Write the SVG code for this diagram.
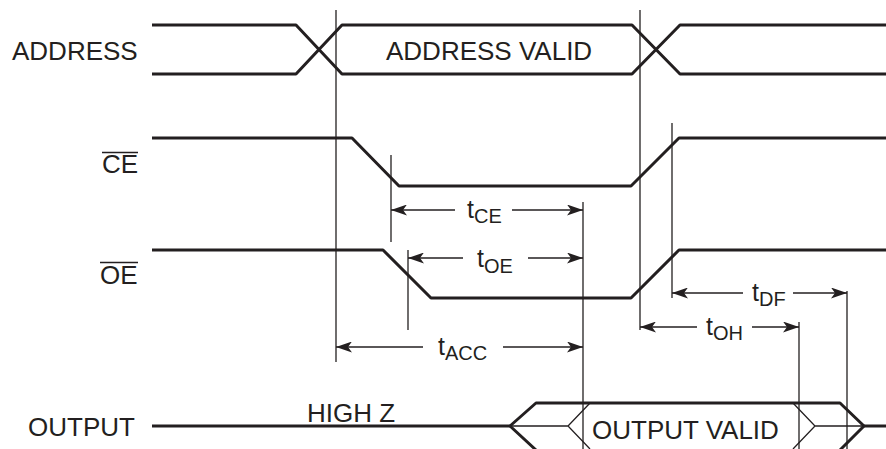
<svg xmlns="http://www.w3.org/2000/svg" width="886" height="449" viewBox="0 0 886 449">
<style>
.sig{fill:none;stroke:#231f20;stroke-width:3;stroke-linejoin:round;stroke-linecap:butt}
.thin{fill:none;stroke:#231f20;stroke-width:1.3}
.dim{fill:none;stroke:#231f20;stroke-width:1.5}
.lbl{font-family:"Liberation Sans",Arial,sans-serif;font-size:26px;fill:#231f20}
.tm{font-family:"Liberation Sans",Arial,sans-serif;font-size:25px;fill:#231f20}
.sub{font-size:20px}
</style>
<defs>
<marker id="ah" markerUnits="userSpaceOnUse" markerWidth="16" markerHeight="11" viewBox="0 0 16 11" refX="16" refY="5.5" orient="auto">
<path d="M0,0 L16,5.5 L0,11 L4,5.5 Z" fill="#231f20"/>
</marker>
</defs>
<rect width="886" height="449" fill="#ffffff"/>

<g id="address">
<text class="lbl" x="12" y="60">ADDRESS</text>
<path class="sig" d="M152,25 H296 L342,74 H632 L680,25 H886"/>
<path class="sig" d="M152,74 H296 L342,25 H632 L680,74 H886"/>
<text class="lbl" x="386" y="60">ADDRESS VALID</text>
</g>

<g id="ce">
<text class="lbl" x="102" y="173">CE</text>
<line class="dim" x1="102" y1="152.5" x2="138" y2="152.5"/>
<path class="sig" d="M152,138 H352 L399,186 H631 L679,138 H886"/>
</g>

<g id="oe">
<text class="lbl" x="100" y="284">OE</text>
<line class="dim" x1="100" y1="262.5" x2="138" y2="262.5"/>
<path class="sig" d="M152,250 H383 L431,298 H631 L679,250 H886"/>
</g>

<g id="output">
<text class="lbl" x="28" y="436">OUTPUT</text>
<text class="lbl" x="307" y="422">HIGH Z</text>
<path class="sig" d="M152,426 H510"/>
<path class="sig" d="M536,450 L510,426 L536,403 H840 L864,426 L840,450"/>
<path class="sig" d="M864,426 H886"/>
<path class="thin" d="M510,426 H568 M590,403 L568,426 L590,449 M793,403 L815,426 L793,449 M815,426 H864"/>
<text class="lbl" x="592" y="439">OUTPUT VALID</text>
</g>

<g id="connectors">
<line class="thin" x1="336" y1="10" x2="336" y2="362"/>
<line class="thin" x1="640" y1="10" x2="640" y2="330"/>
<line class="thin" x1="391" y1="155" x2="391" y2="242"/>
<line class="thin" x1="408" y1="250" x2="408" y2="330"/>
<line class="thin" x1="583" y1="202" x2="583" y2="449"/>
<line class="thin" x1="672" y1="123" x2="672" y2="298"/>
<line class="thin" x1="847" y1="291" x2="847" y2="449"/>
<line class="thin" x1="799" y1="322" x2="799" y2="449"/>

<line class="dim" x1="455" y1="210" x2="391" y2="210" marker-end="url(#ah)"/>
<line class="dim" x1="512" y1="210" x2="583" y2="210" marker-end="url(#ah)"/>
<text class="tm" x="467" y="218">t<tspan class="sub" dy="5">CE</tspan></text>

<line class="dim" x1="463" y1="258" x2="408" y2="258" marker-end="url(#ah)"/>
<line class="dim" x1="528" y1="258" x2="583" y2="258" marker-end="url(#ah)"/>
<text class="tm" x="477" y="267">t<tspan class="sub" dy="6">OE</tspan></text>

<line class="dim" x1="423" y1="347" x2="336" y2="347" marker-end="url(#ah)"/>
<line class="dim" x1="503" y1="347" x2="583" y2="347" marker-end="url(#ah)"/>
<text class="tm" x="438" y="355">t<tspan class="sub" dy="5">ACC</tspan></text>

<line class="dim" x1="743" y1="293" x2="672" y2="293" marker-end="url(#ah)"/>
<line class="dim" x1="793" y1="293" x2="847" y2="293" marker-end="url(#ah)"/>
<text class="tm" x="752" y="301">t<tspan class="sub" dy="5">DF</tspan></text>

<line class="dim" x1="697" y1="327" x2="640" y2="327" marker-end="url(#ah)"/>
<line class="dim" x1="752" y1="327" x2="799" y2="327" marker-end="url(#ah)"/>
<text class="tm" x="706" y="335">t<tspan class="sub" dy="5">OH</tspan></text>
</g>
</svg>
